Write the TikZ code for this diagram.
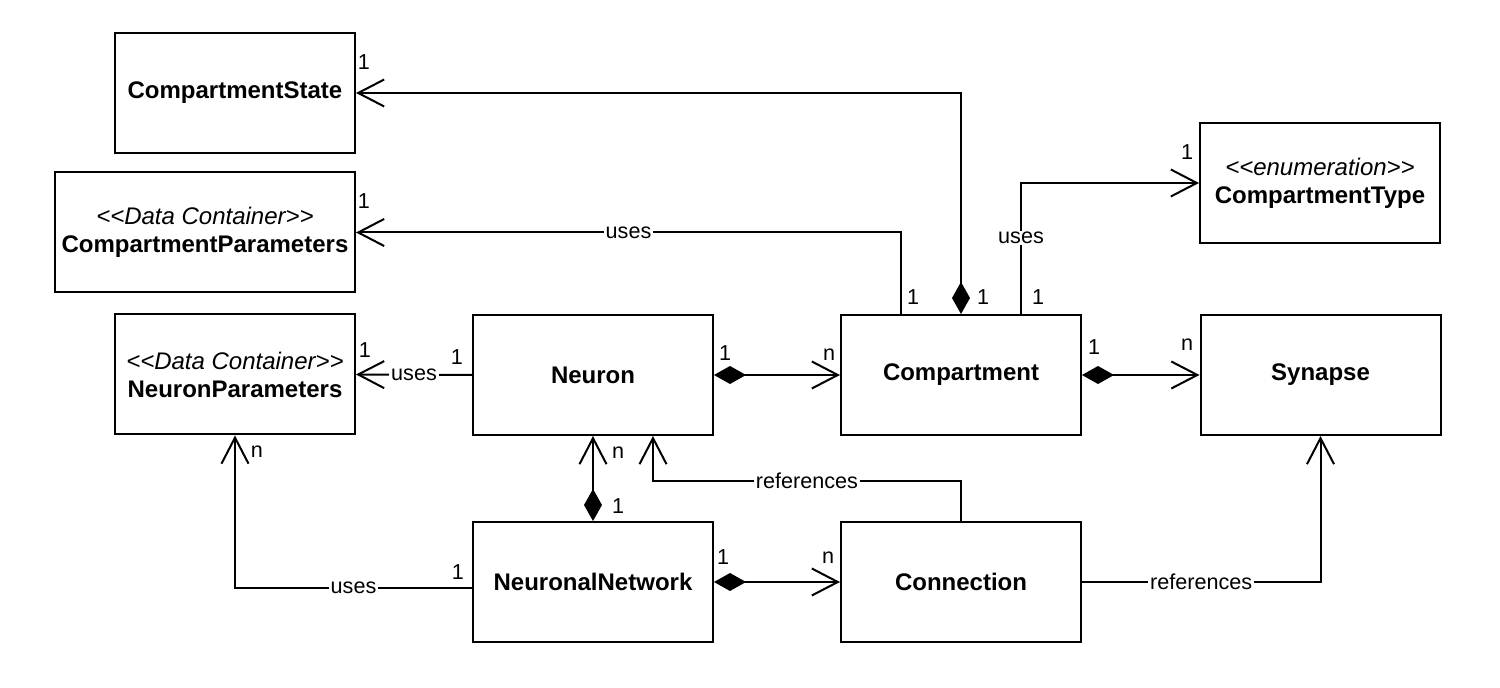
\documentclass[tikz,border=0pt]{standalone}
\usepackage{fontspec}
\setmainfont{Liberation Sans}
\usetikzlibrary{arrows.meta,calc}
\tikzset{
  box/.style={draw, line width=1pt, minimum width=120pt, minimum height=60pt, align=center, inner sep=2pt, font=\fontsize{12}{14}\selectfont},
  conn/.style={line width=1pt},
  lbl/.style={fill=white, inner xsep=1pt, inner ysep=0.5pt, font=\fontsize{10.8}{13}\selectfont},
  mult/.style={inner sep=0pt, font=\fontsize{10.8}{13}\selectfont},
  assoc/.style={conn, -{Straight Barb[length=13pt,width=13.5pt]}},
  compo/.style={conn, {Diamond[length=16pt,width=9pt]}-{Straight Barb[length=13pt,width=13.5pt]}},
}
\begin{document}
\begin{tikzpicture}[x=0.5pt,y=-0.5pt]
\useasboundingbox (0,0) rectangle (1500,688);
% classes
\node[box] (CS) at (235,93) {\bfseries CompartmentState};
\node[box, minimum width=150pt] (CP) at (205,232.5) {{\itshape <{}<Data Container>{}>}\\{\bfseries CompartmentParameters}};
\node[box] (NP) at (235,374.5) {{\itshape <{}<Data Container>{}>}\\{\bfseries NeuronParameters}};
\node[box] (Neuron) at (593,375) {\bfseries Neuron};
\node[box] (Comp) at (961,375) {\bfseries Compartment};
\node[box] (Syn) at (1320.5,375) {\bfseries Synapse};
\node[box] (CT) at (1320,183) {{\itshape <{}<enumeration>{}>}\\{\bfseries CompartmentType}};
\node[box] (NN) at (593,582) {\bfseries NeuronalNetwork};
\node[box] (Conn) at (961,582) {\bfseries Connection};
% connectors
\draw[compo] (Comp.north) |- (CS.east);
\draw[assoc] ($(Comp.north)+(-60,0)$) |- node[lbl,pos=0.75]{uses} (CP.east);
\draw[assoc] ($(Comp.north)+(60,0)$) |- node[lbl,pos=0.29]{uses} (CT.west);
\draw[assoc] (Neuron.west) -- node[lbl]{uses} (NP.east);
\draw[compo] (Neuron.east) -- (Comp.west);
\draw[compo] (Comp.east) -- (Syn.west);
\draw[compo] (NN.north) -- (Neuron.south);
\draw[assoc] (Conn.north) -- ++(0,-40) -| node[lbl,pos=0.25]{references} ($(Neuron.south)+(60,0)$);
\draw[assoc] ($(NN.west)+(0,6)$) -| node[lbl,pos=0.25]{uses} (NP.south);
\draw[compo] (NN.east) -- (Conn.west);
\draw[assoc] (Conn.east) -| node[lbl,pos=0.25]{references} (Syn.south);
% multiplicities
\node[mult] (m1) at (364,62) {1};
\node[mult] (m2) at (983,297) {1};
\node[mult] (m3) at (364,201) {1};
\node[mult] (m4) at (913,297) {1};
\node[mult] (m5) at (1187,152) {1};
\node[mult] (m6) at (1038,297) {1};
\node[mult] (m7) at (365,350) {1};
\node[mult] (m8) at (457,357) {1};
\node[mult] (m9) at (725,353) {1};
\node[mult] (m10) at (829,355) {n};
\node[mult] (m11) at (1094,347) {1};
\node[mult] (m12) at (1187,345) {n};
\node[mult] (m13) at (257,452) {n};
\node[mult] (m14) at (458,572) {1};
\node[mult] (m15) at (618,453) {n};
\node[mult] (m16) at (618,506) {1};
\node[mult] (m17) at (723,557) {1};
\node[mult] (m18) at (828,558) {n};
\end{tikzpicture}
\end{document}
